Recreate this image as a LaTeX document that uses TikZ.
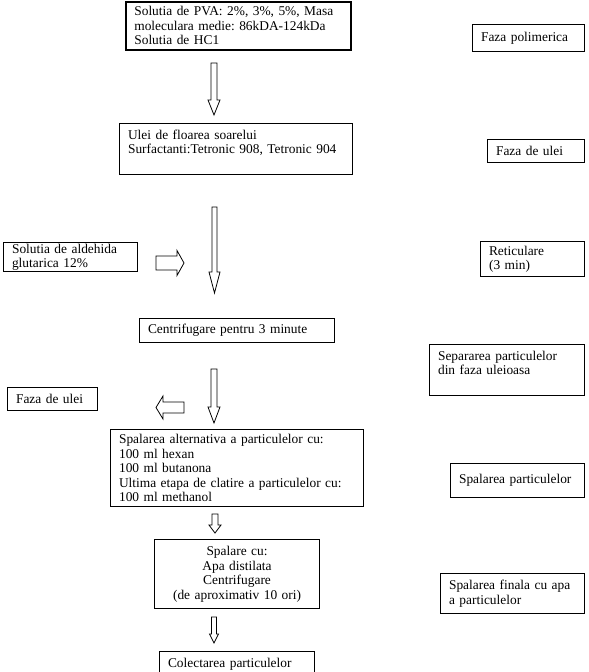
\documentclass[tikz,border=0pt]{standalone}
\usepackage{fontspec}
\setmainfont{Liberation Serif}
\usepackage{tikz}
\usetikzlibrary{positioning}
\frenchspacing
\tikzset{
  box/.style = {rectangle, draw = black, line width = 1.1pt, anchor = north west,
    inner xsep = 8.5pt, inner ysep = 0pt, align = left,
    font = \fontsize{13.4}{14.5}\selectfont},
  hollow/.style = {draw = black, line width = 0.8pt, fill = white}
}
% block arrows: centre, start, head start, tip, shaft half width, head half width
\newcommand{\hollowdown}[6]{%
  \draw [hollow] (#1-#5,#2) -- (#1+#5,#2) -- (#1+#5,#3) -- (#1+#6,#3) --
  (#1,#4) -- (#1-#6,#3) -- (#1-#5,#3) -- cycle;}
\newcommand{\hollowside}[6]{%
  \draw [hollow] (#2,#1-#5) -- (#3,#1-#5) -- (#3,#1-#6) -- (#4,#1) --
  (#3,#1+#6) -- (#3,#1+#5) -- (#2,#1+#5) -- cycle;}
\begin{document}
\begin{tikzpicture}[x = 1pt, y = -1pt]
    \useasboundingbox (0, 0) rectangle (589, 672);
    \clip (0, 0) rectangle (589, 672);
    % main column
    \node [box, line width = 1.7pt, text width = 208, minimum height = 48] at (125, 1)
      (pva) {Solutia de PVA: 2\%, 3\%, 5\%, Masa\\ moleculara medie: 86kDA-124kDa\\ Solutia de HC1};
    \node [box, text width = 216, minimum height = 51] at (119, 123)
      (ulei) {Ulei de floarea soarelui\\ Surfactanti:Tetronic 908, Tetronic 904\\ \mbox{}};
    \node [box, text width = 178, minimum height = 24] at (139, 318)
      (centrif) {Centrifugare pentru 3 minute};
    \node [box, text width = 236, minimum height = 77] at (110, 429)
      (spalalt) {Spalarea alternativa a particulelor cu:\\ 100 ml hexan\\ 100 ml butanona\\
      Ultima etapa de clatire a particulelor cu:\\ 100 ml methanol};
    \node [box, align = center, text width = 148, minimum height = 69] at (154, 539)
      (spalcu) {Spalare cu:\\ Apa distilata\\ Centrifugare\\ (de aproximativ 10 ori)};
    \node [box, text width = 138, minimum height = 26] at (159, 651)
      (colect) {Colectarea particulelor};
    % left side
    \node [box, text width = 117, minimum height = 29] at (3, 242)
      (aldehida) {Solutia de aldehida\\ glutarica 12\%};
    \node [box, text width = 73, minimum height = 23] at (7, 387)
      (fazauleil) {Faza de ulei};
    % right side
    \node [box, text width = 95, minimum height = 27] at (472, 24)
      (fazapol) {Faza polimerica};
    \node [box, text width = 80, minimum height = 23] at (487, 139)
      (fazaulei) {Faza de ulei};
    \node [box, text width = 87, minimum height = 35] at (480, 241)
      (retic) {Reticulare\\ (3 min)};
    \node [box, text width = 138, minimum height = 51] at (429, 344)
      (separ) {Separarea particulelor\\ din faza uleioasa\\ \mbox{}};
    \node [box, text width = 117, minimum height = 34] at (450, 463)
      (spalpart) {Spalarea particulelor};
    \node [box, text width = 127, minimum height = 40] at (440, 573)
      (spalfin) {Spalarea finala cu apa\\ a particulelor};

    % block arrows
    \hollowdown{214}{63}{100}{115}{3}{6}
    \hollowdown{214.5}{207}{272}{293}{2.5}{5.5}
    \hollowdown{214}{369}{407}{423}{3}{6}
    \hollowdown{215}{514}{525}{533}{3}{6}
    \hollowdown{214}{617}{634}{643}{2.5}{4.5}
    \hollowside{263}{156}{177}{184}{7}{12.5}
    \hollowside{407.5}{184}{163}{156}{5.5}{11.5}
  \end{tikzpicture}
\end{document}
